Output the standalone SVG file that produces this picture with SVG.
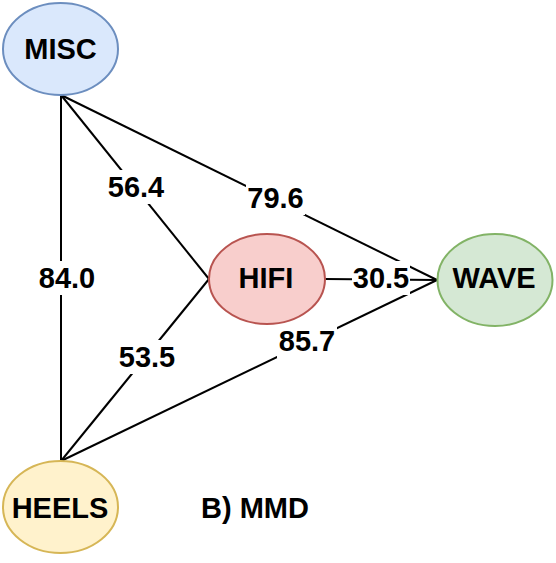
<svg xmlns="http://www.w3.org/2000/svg" width="556" height="563" viewBox="0 0 556 563">
<style>
  text { font-family: "Liberation Sans", Arial, Helvetica, sans-serif; font-weight: bold; font-size: 29px; fill: #000; text-anchor: middle; }
  .edge { stroke: #000; stroke-width: 2; fill: none; }
  .lbl { fill: #fff; }
  .node { stroke-width: 2; }
</style>
<rect width="556" height="563" fill="#fff"/>
<g id="connectors">
  <line class="edge" x1="61" y1="95" x2="61" y2="461"/>
  <line class="edge" x1="61" y1="95" x2="209" y2="279"/>
  <line class="edge" x1="61" y1="95" x2="437" y2="280"/>
  <line class="edge" x1="61" y1="461" x2="209" y2="279"/>
  <line class="edge" x1="61" y1="461" x2="437" y2="280"/>
  <line class="edge" x1="325" y1="279" x2="437" y2="280"/>
  <g id="label-84.0"><rect class="lbl" x="37" y="261" width="60" height="34"/><text x="67" y="288">84.0</text></g>
  <g id="label-56.4"><rect class="lbl" x="106" y="170" width="60" height="34"/><text x="136" y="197">56.4</text></g>
  <g id="label-79.6"><rect class="lbl" x="246" y="181" width="59" height="34"/><text x="275.5" y="208">79.6</text></g>
  <g id="label-53.5"><rect class="lbl" x="117" y="340" width="60" height="34"/><text x="147" y="367">53.5</text></g>
  <g id="label-85.7"><rect class="lbl" x="277" y="324" width="60" height="34"/><text x="307" y="351">85.7</text></g>
  <g id="label-30.5"><rect class="lbl" x="352" y="261" width="58" height="34"/><text x="381" y="288">30.5</text></g>
</g>
<g id="node-misc">
  <ellipse class="node" cx="60.5" cy="49" rx="57.5" ry="46" fill="#dae8fc" stroke="#6c8ebf"/>
  <text x="60.5" y="59">MISC</text>
</g>
<g id="node-hifi">
  <ellipse class="node" cx="267" cy="279" rx="58" ry="45" fill="#f8cecc" stroke="#b85450"/>
  <text x="266" y="288">HIFI</text>
</g>
<g id="node-wave">
  <ellipse class="node" cx="495" cy="280" rx="57.5" ry="46" fill="#d5e8d4" stroke="#82b366"/>
  <text x="494" y="288">WAVE</text>
</g>
<g id="node-heels">
  <ellipse class="node" cx="60.5" cy="507" rx="57.5" ry="46" fill="#fff2cc" stroke="#d6b656"/>
  <text x="60" y="518">HEELS</text>
</g>
<g id="caption">
  <text x="255" y="518">B) MMD</text>
</g>
</svg>
